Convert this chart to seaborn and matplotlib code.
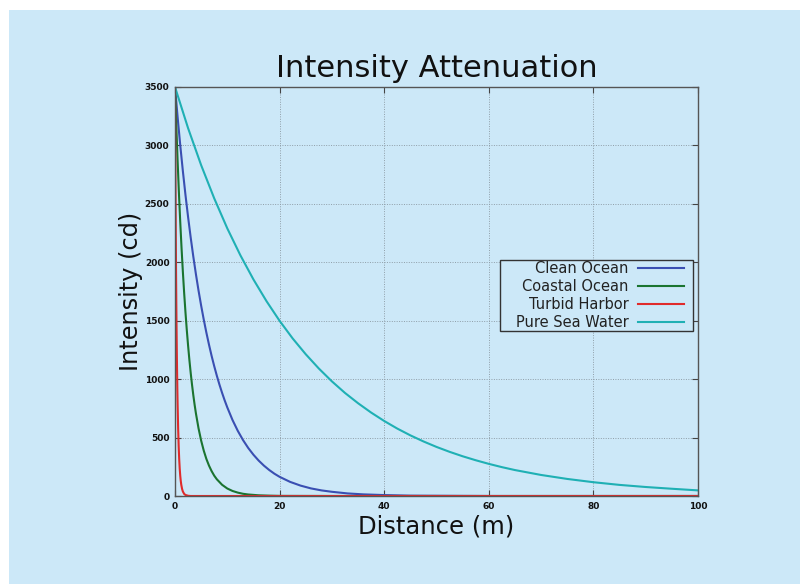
import matplotlib
matplotlib.use("Agg")
import matplotlib.pyplot as plt
from matplotlib.patches import Rectangle
import seaborn as sns

# ---- data ----
series_names = ["Clean Ocean", "Coastal Ocean", "Turbid Harbor", "Pure Sea Water"]

clean_x = [0, 0.5, 1, 1.5, 2, 2.5, 3, 3.5, 4, 4.5, 5, 5.5, 6, 6.5, 7, 7.5, 8, 8.5, 9, 9.5, 10,
           11, 12, 13, 14, 15, 16, 17, 18, 19, 20, 22, 24, 26, 28, 30, 33, 36, 40, 45, 50, 60, 100]
clean_y = [3500, 3242, 3003, 2782, 2577, 2388, 2212, 2049, 1898, 1758, 1629, 1509, 1398, 1295,
           1199, 1111, 1029, 953, 883, 818, 758, 650, 558, 479, 411, 353, 303, 260, 223, 191,
           164, 121, 89, 65, 48, 36, 22, 14, 8, 3, 2, 0, 0]

coastal_x = [0, 0.25, 0.5, 0.75, 1, 1.25, 1.5, 1.75, 2, 2.25, 2.5, 2.75, 3, 3.25, 3.5, 3.75, 4,
             4.5, 5, 5.5, 6, 6.5, 7, 7.5, 8, 9, 10, 11, 12, 13, 14, 16, 18, 20, 30, 100]
coastal_y = [3500, 3167, 2866, 2593, 2346, 2123, 1921, 1738, 1573, 1423, 1288, 1165, 1054, 954,
             863, 781, 707, 579, 474, 388, 317, 260, 213, 174, 143, 96, 64, 43, 29, 19, 13, 6,
             3, 1, 0, 0]

turbid_x = [0, 0.05, 0.1, 0.15, 0.2, 0.25, 0.3, 0.35, 0.4, 0.45, 0.5, 0.6, 0.7, 0.8, 0.9, 1.0,
            1.1, 1.2, 1.35, 1.5, 1.75, 2.0, 2.5, 3, 100]
turbid_y = [3500, 3012, 2593, 2232, 1921, 1653, 1423, 1225, 1054, 907, 781, 579, 429, 318, 235,
            174, 129, 96, 61, 39, 18, 9, 2, 0, 0]

pure_x = [0, 2.5, 5, 7.5, 10, 12.5, 15, 17.5, 20, 22.5, 25, 27.5, 30, 32.5, 35, 37.5, 40, 42.5,
          45, 47.5, 50, 52.5, 55, 57.5, 60, 62.5, 65, 70, 75, 80, 85, 90, 95, 100]
pure_y = [3500, 3148, 2831, 2547, 2290, 2060, 1853, 1667, 1499, 1348, 1213, 1091, 981, 882, 794,
          714, 642, 577, 519, 467, 420, 378, 340, 306, 275, 247, 222, 180, 146, 118, 95, 77, 62,
          48]

x_ticks = [0, 20, 40, 60, 80, 100]
y_ticks = [0, 500, 1000, 1500, 2000, 2500, 3000, 3500]

colors = ["#3a4fb2", "#1b7430", "#e02b2b", "#1fb0b4"]
bg = "#cce8f8"

fig = plt.figure(figsize=(8.0, 5.84), dpi=100, facecolor="white")
# light-blue panel with white margin at top and left
fig.patches.append(Rectangle((9 / 800, 0), 1 - 9 / 800, 1 - 10 / 584,
                             transform=fig.transFigure, facecolor=bg,
                             edgecolor="none", zorder=-10))

ax = fig.add_axes([175 / 800, 1 - 496 / 584, (698 - 175) / 800, (496 - 87) / 584])
ax.set_facecolor(bg)

for xs, ys, name, c in zip([clean_x, coastal_x, turbid_x, pure_x],
                           [clean_y, coastal_y, turbid_y, pure_y],
                           series_names, colors):
    sns.lineplot(x=xs, y=ys, ax=ax, color=c, linewidth=1.5, label=name, sort=False)

ax.set_xlim(0, 100)
ax.set_ylim(0, 3500)
ax.set_xticks(x_ticks)
ax.set_yticks(y_ticks)
ax.set_xticklabels([str(t) for t in x_ticks], fontsize=6.5, fontweight="bold")
ax.set_yticklabels([str(t) for t in y_ticks], fontsize=6.5, fontweight="bold")
ax.tick_params(direction="in", length=4, width=0.8, top=True, right=True,
               color="#444444", labelcolor="#111111", pad=4)
ax.grid(True, linestyle=(0, (1, 1.5)), color="#8f9ea8", linewidth=0.7)
for s in ax.spines.values():
    s.set_color("#555555")
    s.set_linewidth(1.0)

ax.set_title("Intensity Attenuation", fontsize=22, pad=7, color="#111111")
ax.set_xlabel("Distance (m)", fontsize=17.5, labelpad=3, color="#111111")
ax.set_ylabel("Intensity (cd)", fontsize=17.3, labelpad=1.5, color="#111111")

leg = ax.legend(loc="center right", bbox_to_anchor=(0.9738, 0.4905), borderaxespad=0,
                markerfirst=False, frameon=False, fontsize=10.5, handlelength=3.2,
                labelspacing=0.205, borderpad=0.0, handletextpad=0.64)
for t in leg.get_texts():
    t.set_color("#222222")

# legend frame with the reference's asymmetric padding
fig.canvas.draw()
bb = leg.get_window_extent()
pad_l, pad_r, pad_v = 15.5, 8.4, 1.4
to_ax = ax.transAxes.inverted()
(x0, y0) = to_ax.transform((bb.x0 - pad_l, bb.y0 - pad_v))
(x1, y1) = to_ax.transform((bb.x1 + pad_r, bb.y1 + pad_v))
ax.add_patch(Rectangle((x0, y0), x1 - x0, y1 - y0, transform=ax.transAxes,
                       facecolor=bg, edgecolor="#333333", linewidth=1.0, zorder=4.5,
                       clip_on=False))

fig.savefig("out.png", dpi=100, facecolor="white")
